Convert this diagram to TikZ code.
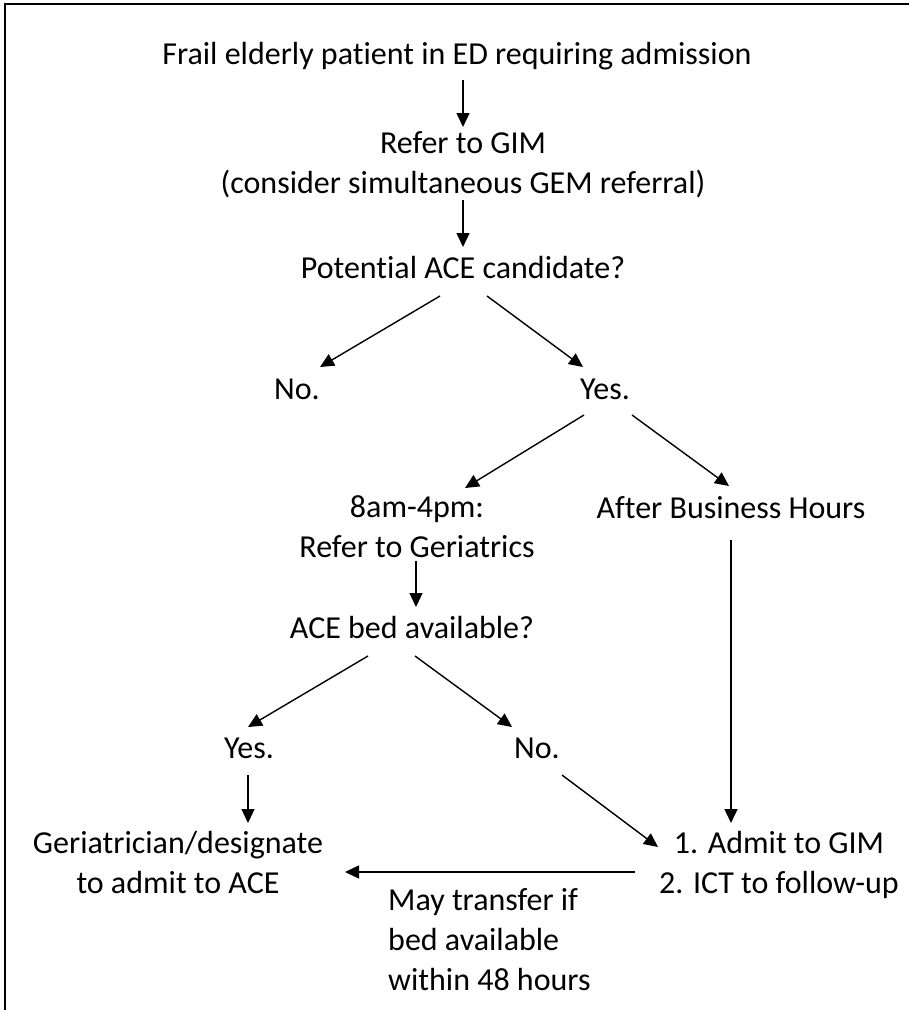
\documentclass[tikz,border=0pt]{standalone}
\usepackage{fontspec}
\setmainfont{Carlito}[Ligatures=NoCommon]
\usetikzlibrary{arrows.meta}

\begin{document}
\begin{tikzpicture}[x=1pt,y=-1pt,
	txt/.style={font=\fontsize{32}{40}\selectfont,inner sep=0pt,anchor=base,align=center},
	arr/.style={line width=1.4pt,-{Triangle[length=14pt,width=13pt]}}]

	\useasboundingbox (0,0) rectangle (909,1010);
	\draw[line width=2pt] (5,1010) -- (5,4) -- (909,4);

	% multi-line nodes sit on their last baseline
	\node[txt] (frail) at (457,64) {Frail elderly patient in ED requiring admission};
	\node[txt] (gim) at (463,193) {Refer to GIM\\(consider simultaneous GEM referral)};
	\node[txt] (cand) at (463,278) {Potential ACE candidate?};
	\node[txt] (no1) at (297,399) {No.};
	\node[txt] (yes1) at (605,399) {Yes.};
	\node[txt] (day) at (417,557) {8am-4pm:\\Refer to Geriatrics};
	\node[txt] (after) at (731,518) {After Business Hours};
	\node[txt] (bed) at (412,638) {ACE bed available?};
	\node[txt] (yes2) at (249,758) {Yes.};
	\node[txt] (no2) at (537,758) {No.};
	\node[txt] (geri) at (178,893) {Geriatrician/designate\\to admit to ACE};
	\node[txt] (admit) at (779,893) {1. Admit to GIM\\2. ICT to follow-up};
	\node[txt,anchor=base west,align=left] (transfer) at (388,990) {May transfer if\\bed available\\within 48 hours};

	\draw[arr] ([xshift=6pt,yshift=-16pt]frail.base) -- ([yshift=66pt]gim.base);
	\draw[arr] ([yshift=-7pt]gim.base) -- ([yshift=31pt]cand.base);
	\draw[arr] ([xshift=-23pt,yshift=-18pt]cand.base) -- ([xshift=23pt,yshift=32pt]no1.base);
	\draw[arr] ([xshift=24pt,yshift=-18pt]cand.base) -- ([xshift=-22pt,yshift=32pt]yes1.base);
	\draw[arr] ([xshift=-21pt,yshift=-16pt]yes1.base) -- ([xshift=48pt,yshift=69pt]day.base);
	\draw[arr] ([xshift=27pt,yshift=-16pt]yes1.base) -- ([xshift=-2pt,yshift=32pt]after.base);
	\draw[arr] ([xshift=-1pt,yshift=-4pt]day.base) -- ([xshift=4pt,yshift=31pt]bed.base);
	\draw[arr] ([xshift=-44pt,yshift=-18pt]bed.base) -- ([xshift=-1pt,yshift=31pt]yes2.base);
	\draw[arr] ([xshift=3pt,yshift=-18pt]bed.base) -- ([xshift=-25pt,yshift=31pt]no2.base);
	\draw[arr] ([xshift=-1pt,yshift=-17pt]yes2.base) -- ([xshift=70pt,yshift=70pt]geri.base);
	\draw[arr] ([xshift=25pt,yshift=-17pt]no2.base) -- ([xshift=-121pt,yshift=46pt]admit.base);
	\draw[arr] ([yshift=-22pt]after.base) -- ([xshift=-48pt,yshift=70pt]admit.base);
	\draw[arr] ([xshift=-144pt,yshift=21pt]admit.base) -- ([xshift=167pt,yshift=21pt]geri.base);
\end{tikzpicture}
\end{document}
